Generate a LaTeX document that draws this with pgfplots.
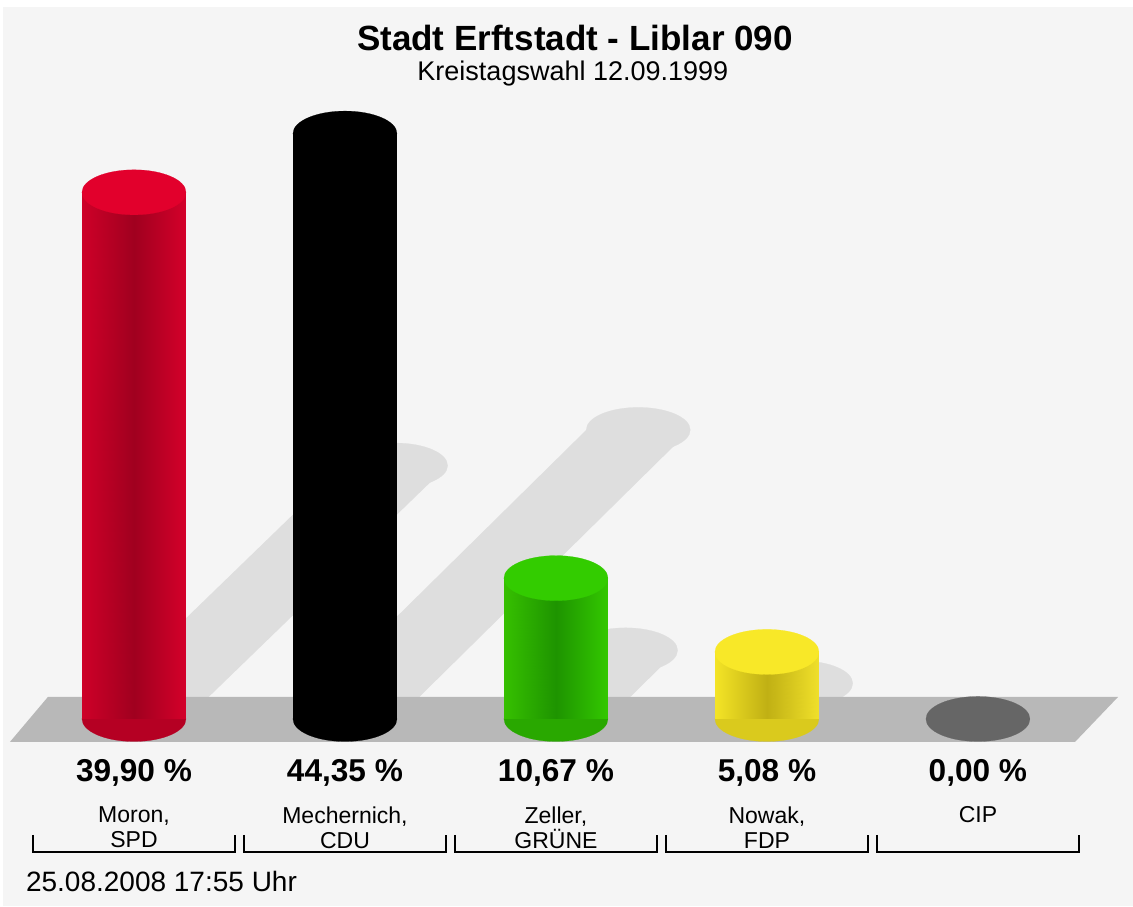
\documentclass[border=0pt]{standalone}
\usepackage{pgfplots}
\pgfplotsset{compat=1.18}
\usepackage{fontspec}
\setmainfont{Liberation Sans}
\definecolor{bg}{HTML}{F5F5F5}
\definecolor{floorc}{HTML}{B8B8B8}
\definecolor{shadowc}{HTML}{DEDEDE}
\definecolor{redT}{HTML}{E2002C}
\definecolor{redL}{HTML}{CE0028}
\definecolor{redM}{HTML}{A0001F}
\definecolor{redR}{HTML}{D4002A}
\definecolor{grnT}{HTML}{33CC00}
\definecolor{grnL}{HTML}{36C000}
\definecolor{grnM}{HTML}{1E9400}
\definecolor{grnR}{HTML}{33C800}
\definecolor{yelT}{HTML}{F8E828}
\definecolor{yelL}{HTML}{F4E426}
\definecolor{yelM}{HTML}{C0B014}
\definecolor{yelR}{HTML}{F0E02A}
\definecolor{cipc}{HTML}{666666}
\pgfplotsset{
  colormap={redmap}{color=(redL) color=(redM) color=(redR)},
  colormap={grnmap}{color=(grnL) color=(grnM) color=(grnR)},
  colormap={yelmap}{color=(yelL) color=(yelM) color=(yelR)},
}
\begin{document}
\begin{tikzpicture}
\fill[white] (0,0) rectangle (566.5pt,453pt);
\fill[bg] (1.5pt,0) rectangle (566.5pt,449.5pt);
\begin{axis}[at={(0,0)}, anchor=south west, scale only axis,
  width=566.5pt, height=453pt,
  xmin=-0.635, xmax=4.735, ymin=-14.17, ymax=54.47,
  hide axis, clip=false, clip mode=individual, clip marker paths=true,
  point meta min=0, point meta max=2,
  cap/.style={only marks, mark=*, mark size=26pt, mark options={draw=#1, fill=#1, line width=0.1pt, yscale=0.433}},
  body/.style={patch, patch type=rectangle, shader=interp, colormap name=#1, point meta=explicit},
]
% shadows
\addplot[fill=shadowc, draw=none] coordinates {(-0.2464,0) (0.2464,0) (1.4864,19.2) (0.9936,19.2)} -- cycle;
\addplot[cap=shadowc] coordinates {(1.24,19.2)};
\addplot[fill=shadowc, draw=none] coordinates {(0.7536,0) (1.2464,0) (2.6364,21.9) (2.1436,21.9)} -- cycle;
\addplot[cap=shadowc] coordinates {(2.39,21.9)};
\addplot[fill=shadowc, draw=none] coordinates {(1.7536,0) (2.2464,0) (2.5764,5.2) (2.0836,5.2)} -- cycle;
\addplot[cap=shadowc] coordinates {(2.33,5.2)};
\addplot[fill=shadowc, draw=none] coordinates {(2.7536,0) (3.2464,0) (3.4064,2.7) (2.9136,2.7)} -- cycle;
\addplot[cap=shadowc] coordinates {(3.16,2.7)};
% floor
\addplot[fill=floorc, draw=none] coordinates {(-0.588,-1.742) (4.460,-1.742) (4.664,1.667) (-0.408,1.667)} -- cycle;
% SPD
\addplot[cap=redM!55!redL] coordinates {(0,0)};
\addplot[body=redmap] table[meta=c] {
x y c
-0.2464 0 0
0 0 1
0 39.90 1
-0.2464 39.90 0
0 0 1
0.2464 0 2
0.2464 39.90 2
0 39.90 1
};
\addplot[cap=redT] coordinates {(0,39.90)};
% CDU
\addplot[cap=black] coordinates {(1,0)};
\addplot[draw=none, fill=black] coordinates {(0.7536,0) (0.7536,44.35) (1.2464,44.35) (1.2464,0)} -- cycle;
\addplot[cap=black] coordinates {(1,44.35)};
% GRUENE
\addplot[cap=grnM!55!grnL] coordinates {(2,0)};
\addplot[body=grnmap] table[meta=c] {
x y c
1.7536 0 0
2 0 1
2 10.67 1
1.7536 10.67 0
2 0 1
2.2464 0 2
2.2464 10.67 2
2 10.67 1
};
\addplot[cap=grnT] coordinates {(2,10.67)};
% FDP
\addplot[cap=yelM!50!yelL] coordinates {(3,0)};
\addplot[body=yelmap] table[meta=c] {
x y c
2.7536 0 0
3 0 1
3 5.08 1
2.7536 5.08 0
3 0 1
3.2464 0 2
3.2464 5.08 2
3 5.08 1
};
\addplot[cap=yelT] coordinates {(3,5.08)};
% CIP
\addplot[cap=cipc] coordinates {(4,0.00)};
% titles
\node[font=\bfseries\fontsize{17.5}{20}\selectfont] at (axis cs:2.09,51.6) {Stadt Erftstadt - Liblar 090};
\node[font=\fontsize{13.5}{16}\selectfont] at (axis cs:2.08,48.9) {Kreistagswahl 12.09.1999};
\node[font=\fontsize{14}{16}\selectfont, anchor=west] at (axis cs:-0.545,-12.35) {25.08.2008 17:55 Uhr};
% percent labels
\node[font=\bfseries\fontsize{15.8}{18}\selectfont] at (axis cs:0,-4.09) {39,90 \%};
\node[font=\bfseries\fontsize{15.8}{18}\selectfont] at (axis cs:1,-4.09) {44,35 \%};
\node[font=\bfseries\fontsize{15.8}{18}\selectfont] at (axis cs:2,-4.09) {10,67 \%};
\node[font=\bfseries\fontsize{15.8}{18}\selectfont] at (axis cs:3,-4.09) {5,08 \%};
\node[font=\bfseries\fontsize{15.8}{18}\selectfont] at (axis cs:4,-4.09) {0,00 \%};
% names
\node[align=center, font=\fontsize{11.5}{12.5}\selectfont] at (axis cs:0,-8.22) {Moron,\\SPD};
\node[align=center, font=\fontsize{11.5}{12.5}\selectfont] at (axis cs:1,-8.22) {Mechernich,\\CDU};
\node[align=center, font=\fontsize{11.5}{12.5}\selectfont] at (axis cs:2,-8.22) {Zeller,\\GRÜNE};
\node[align=center, font=\fontsize{11.5}{12.5}\selectfont] at (axis cs:3,-8.22) {Nowak,\\FDP};
\node[align=center, font=\fontsize{11.5}{12.5}\selectfont] at (axis cs:4,-7.27) {CIP};
% brackets
\draw[line width=0.9pt] (axis cs:-0.479,-8.79) -- (axis cs:-0.479,-10.08) -- (axis cs:0.479,-10.08) -- (axis cs:0.479,-8.79);
\draw[line width=0.9pt] (axis cs:0.521,-8.79) -- (axis cs:0.521,-10.08) -- (axis cs:1.479,-10.08) -- (axis cs:1.479,-8.79);
\draw[line width=0.9pt] (axis cs:1.521,-8.79) -- (axis cs:1.521,-10.08) -- (axis cs:2.479,-10.08) -- (axis cs:2.479,-8.79);
\draw[line width=0.9pt] (axis cs:2.521,-8.79) -- (axis cs:2.521,-10.08) -- (axis cs:3.479,-10.08) -- (axis cs:3.479,-8.79);
\draw[line width=0.9pt] (axis cs:3.521,-8.79) -- (axis cs:3.521,-10.08) -- (axis cs:4.479,-10.08) -- (axis cs:4.479,-8.79);
\end{axis}
\end{tikzpicture}
\end{document}
